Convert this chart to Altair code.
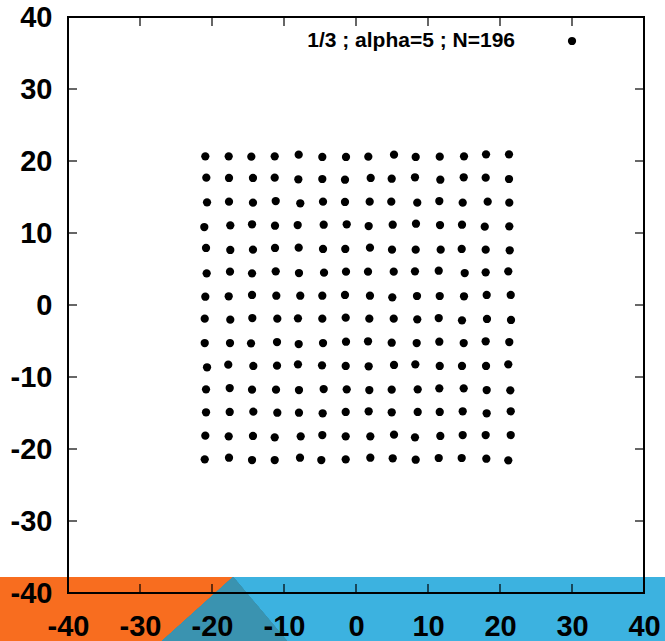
import altair as alt
import pandas as pd

# ---- data (14 x 14 grid, N=196) ----
X_ROWS = [
    [-20.93, -17.68, -14.54, -11.29, -7.96, -4.68, -1.39, 1.71, 5.28, 8.29, 11.63, 15.00, 18.06, 21.25],
    [-20.79, -17.64, -14.31, -11.29, -8.01, -4.68, -1.53, 2.04, 4.96, 8.19, 11.71, 14.96, 18.01, 21.25],
    [-20.69, -17.64, -14.31, -11.15, -7.74, -4.58, -1.53, 1.90, 4.90, 8.51, 11.57, 14.82, 18.29, 21.29],
    [-21.07, -17.46, -14.44, -11.25, -8.10, -4.49, -1.29, 1.76, 5.10, 8.33, 11.67, 14.72, 17.88, 21.29],
    [-20.83, -17.46, -14.31, -11.25, -7.96, -4.58, -1.49, 1.94, 5.00, 8.29, 11.76, 14.68, 18.01, 21.35],
    [-20.74, -17.50, -14.44, -11.15, -7.92, -4.44, -1.39, 1.67, 5.24, 8.19, 11.49, 15.10, 18.01, 21.15],
    [-20.93, -17.68, -14.44, -11.07, -7.74, -4.68, -1.53, 1.94, 5.04, 8.47, 11.63, 15.00, 18.15, 21.49],
    [-21.01, -17.46, -14.40, -10.93, -8.06, -4.68, -1.43, 1.85, 5.24, 8.51, 11.49, 14.72, 18.19, 21.53],
    [-21.01, -17.50, -14.58, -10.97, -7.96, -4.58, -1.39, 1.67, 4.96, 8.43, 11.57, 14.96, 18.01, 21.29],
    [-20.69, -17.74, -14.26, -10.97, -8.06, -4.72, -1.43, 1.76, 5.28, 8.24, 11.63, 14.72, 18.06, 21.15],
    [-20.83, -17.54, -14.44, -11.11, -7.92, -4.49, -1.29, 1.85, 4.96, 8.57, 11.57, 14.96, 18.15, 21.43],
    [-20.83, -17.54, -14.26, -10.93, -7.92, -4.63, -1.43, 1.76, 4.96, 8.57, 11.63, 14.82, 18.15, 21.49],
    [-20.93, -17.68, -14.31, -11.29, -7.68, -4.68, -1.43, 1.99, 5.28, 8.19, 11.71, 14.82, 18.01, 21.49],
    [-21.01, -17.64, -14.44, -11.29, -7.78, -4.82, -1.43, 1.99, 5.10, 8.29, 11.49, 14.68, 18.10, 21.15],
]
Y_ROWS = [
    [20.65, 20.65, 20.60, 20.65, 20.88, 20.56, 20.56, 20.60, 20.88, 20.56, 20.60, 20.65, 20.93, 20.93],
    [17.68, 17.64, 17.64, 17.68, 17.46, 17.50, 17.40, 17.64, 17.54, 17.74, 17.40, 17.74, 17.68, 17.50],
    [14.26, 14.35, 14.21, 14.44, 14.13, 14.35, 14.31, 14.35, 14.35, 14.21, 14.44, 14.21, 14.35, 14.21],
    [10.83, 11.07, 11.21, 11.01, 11.11, 11.15, 11.21, 10.97, 11.15, 11.29, 11.11, 11.15, 10.88, 10.93],
    [7.92, 7.64, 7.68, 7.92, 7.96, 7.78, 7.78, 7.96, 7.68, 7.68, 7.68, 7.78, 7.68, 7.60],
    [4.40, 4.63, 4.40, 4.68, 4.44, 4.49, 4.63, 4.63, 4.63, 4.68, 4.76, 4.44, 4.54, 4.68],
    [1.15, 1.21, 1.39, 1.29, 1.29, 1.29, 1.39, 1.29, 1.07, 1.25, 1.25, 1.21, 1.39, 1.39],
    [-1.90, -2.04, -1.81, -1.90, -1.85, -1.90, -1.76, -1.90, -1.90, -1.99, -1.81, -2.13, -1.94, -2.08],
    [-5.28, -5.28, -5.32, -5.14, -5.42, -5.28, -5.10, -5.04, -5.24, -5.28, -5.10, -5.28, -5.04, -5.14],
    [-8.65, -8.29, -8.47, -8.43, -8.24, -8.38, -8.47, -8.51, -8.33, -8.24, -8.47, -8.47, -8.47, -8.24],
    [-11.71, -11.53, -11.76, -11.76, -11.81, -11.67, -11.71, -11.81, -11.76, -11.71, -11.57, -11.57, -11.81, -11.85],
    [-14.90, -14.86, -14.82, -14.96, -14.96, -15.04, -14.86, -14.76, -14.90, -14.86, -14.86, -14.76, -15.04, -14.76],
    [-18.15, -18.24, -18.19, -18.38, -18.24, -18.06, -18.24, -18.24, -18.01, -18.38, -18.19, -18.06, -18.06, -18.06],
    [-21.43, -21.21, -21.53, -21.53, -21.21, -21.53, -21.43, -21.21, -21.29, -21.49, -21.25, -21.25, -21.35, -21.57],
]
TICKS = [-40, -30, -20, -10, 0, 10, 20, 30, 40]
KEY_LABEL = "1/3 ; alpha=5 ; N=196"

FONT = "Liberation Sans"
W = H = 576

pts = pd.DataFrame(
    [{"x": xv, "y": yv} for xr, yr in zip(X_ROWS, Y_ROWS) for xv, yv in zip(xr, yr)]
)
ticks = pd.DataFrame({"t": TICKS})

xs = alt.Scale(domain=[-40, 40], nice=False, zero=False)
ys = alt.Scale(domain=[-40, 40], nice=False, zero=False)

LABEL_EXPR = "'' + datum.value"
xaxis = alt.Axis(values=TICKS, ticks=False, domain=False, grid=False, labelPadding=19,
                 labelFontSize=29, labelFont=FONT, labelFontWeight="bold",
                 labelColor="black", labelOverlap=False, labelFlush=False,
                 labelExpr=LABEL_EXPR, title=None, zindex=2)
yaxis = alt.Axis(values=TICKS, ticks=False, domain=False, grid=False, labelPadding=16,
                 labelFontSize=29, labelFont=FONT, labelFontWeight="bold",
                 labelColor="black", labelOverlap=False, labelFlush=False,
                 labelExpr=LABEL_EXPR, title=None, zindex=2)

base = alt.Chart(pts)

# decorative coloured band at the bottom of the picture
band_orange = alt.Chart(ticks).mark_rect(color="#F86D1F", strokeWidth=0).encode(
    x=alt.value(-68), x2=alt.value(165), y=alt.value(560), y2=alt.value(624))
band_blue = alt.Chart(ticks).mark_rect(color="#3CB2E0", strokeWidth=0).encode(
    x=alt.value(165), x2=alt.value(597), y=alt.value(560), y2=alt.value(624))
band_tri = alt.Chart(ticks).mark_point(
    shape="M0.27,-1L-1.952,1L1.952,1Z", filled=True, color="#3A93B0",
    opacity=1, strokeWidth=0, size=4096).encode(
    x=alt.value(156.5), y=alt.value(592))

points = base.mark_circle(color="black", opacity=1, size=68).encode(
    x=alt.X("x:Q", scale=xs, axis=xaxis),
    y=alt.Y("y:Q", scale=ys, axis=yaxis),
)

frame = alt.Chart(ticks).mark_rect(fill=None, stroke="black", strokeWidth=1.5).encode(
    x=alt.datum(-40, scale=xs), x2=alt.datum(40),
    y=alt.datum(-40, scale=ys), y2=alt.datum(40))

tk = alt.Chart(ticks)
tick_bottom = tk.mark_rule(color="black", strokeWidth=1.2).encode(
    x=alt.X("t:Q", scale=xs), y=alt.value(H - 9), y2=alt.value(H))
tick_top = tk.mark_rule(color="black", strokeWidth=1.2).encode(
    x=alt.X("t:Q", scale=xs), y=alt.value(0), y2=alt.value(9))
tick_left = tk.mark_rule(color="black", strokeWidth=1.2).encode(
    y=alt.Y("t:Q", scale=ys), x=alt.value(0), x2=alt.value(9))
tick_right = tk.mark_rule(color="black", strokeWidth=1.2).encode(
    y=alt.Y("t:Q", scale=ys), x=alt.value(W - 9), x2=alt.value(W))

key_text = alt.Chart(pd.DataFrame({"label": [KEY_LABEL]})).mark_text(
    align="right", baseline="middle", font=FONT, fontSize=21, fontWeight="bold",
    color="black").encode(text="label:N", x=alt.value(447), y=alt.value(24))
key_dot = alt.Chart(ticks.head(1)).mark_circle(color="black", opacity=1, size=68).encode(
    x=alt.value(504), y=alt.value(24))

chart = alt.layer(
    band_orange, band_blue, band_tri, points, frame,
    tick_bottom, tick_top, tick_left, tick_right, key_text, key_dot
).properties(
    width=W, height=H,
    autosize=alt.AutoSizeParams(type="none"),
    padding={"left": 68, "top": 17, "right": 21, "bottom": 48},
    background="white",
).configure_view(stroke=None, fill="white")

chart.save("out.html", embed_options={"renderer": "svg", "actions": False})
